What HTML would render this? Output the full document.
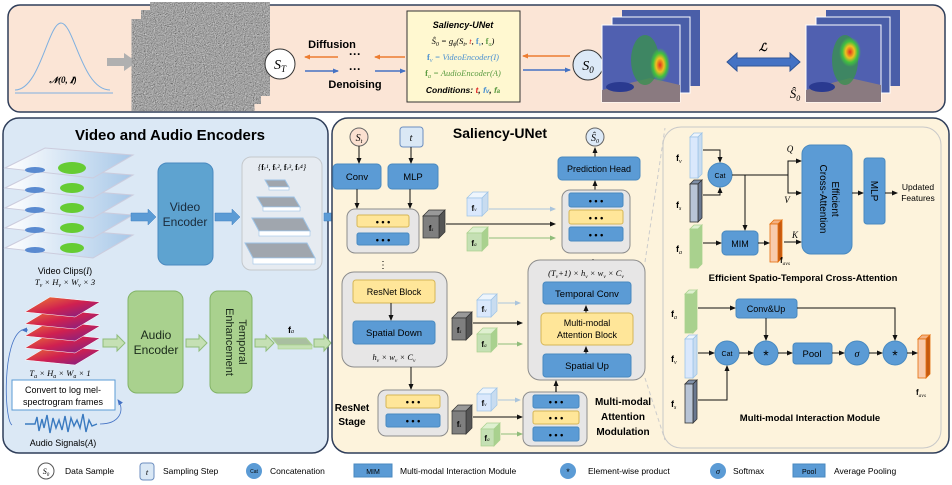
<!DOCTYPE html>
<html><head><meta charset="utf-8"><style>
html,body{margin:0;padding:0;background:#fff}
svg{display:block;font-family:"Liberation Sans",sans-serif}
.b{font-weight:bold}
.m{font-family:"Liberation Serif",serif;font-style:italic}
</style></head><body>
<svg width="952" height="485" viewBox="0 0 952 485" xmlns="http://www.w3.org/2000/svg">
<defs>
<marker id="ak" markerWidth="6" markerHeight="6" refX="5" refY="3" orient="auto" markerUnits="userSpaceOnUse"><path d="M0,0.5 L6,3 L0,5.5z" fill="#111"/></marker>
<marker id="ao" markerWidth="6" markerHeight="6" refX="5" refY="3" orient="auto" markerUnits="userSpaceOnUse"><path d="M0,0.5 L6,3 L0,5.5z" fill="#ed7d31"/></marker>
<marker id="ab" markerWidth="6" markerHeight="6" refX="5" refY="3" orient="auto" markerUnits="userSpaceOnUse"><path d="M0,0.5 L6,3 L0,5.5z" fill="#4472c4"/></marker>
<marker id="ag" markerWidth="6" markerHeight="6" refX="5" refY="3" orient="auto" markerUnits="userSpaceOnUse"><path d="M0,0.5 L6,3 L0,5.5z" fill="#8fbc7a"/></marker>
<marker id="al" markerWidth="6" markerHeight="6" refX="5" refY="3" orient="auto" markerUnits="userSpaceOnUse"><path d="M0,0.5 L6,3 L0,5.5z" fill="#aac4dc"/></marker>
<filter id="noise"><feTurbulence type="fractalNoise" baseFrequency="0.9" numOctaves="2"/><feColorMatrix type="matrix" values="0.45 0.45 0.45 0 -0.32 0.45 0.45 0.45 0 -0.32 0.45 0.45 0.45 0 -0.32 0 0 0 0 1"/></filter>
<radialGradient id="heat"><stop offset="0" stop-color="#e03020"/><stop offset="0.4" stop-color="#f0c020"/><stop offset="0.7" stop-color="#40c040"/><stop offset="1" stop-color="#40c040" stop-opacity="0"/></radialGradient>
<linearGradient id="spec" x1="0" y1="0" x2="1" y2="1"><stop offset="0" stop-color="#f08030"/><stop offset="0.5" stop-color="#d02050"/><stop offset="1" stop-color="#702090"/></linearGradient>
<linearGradient id="sky" x1="0" y1="0" x2="1" y2="0"><stop offset="0" stop-color="#ffffff"/><stop offset="1" stop-color="#a8c8e8"/></linearGradient>
</defs>

<!-- TOP PANEL -->
<rect x="8" y="5" width="937" height="107" rx="12" fill="#fbe5d6" stroke="#2f3e5a" stroke-width="1.5"/>
<path d="M15,93 L113,93" stroke="#7fb0e0" stroke-width="1"/>
<path d="M15,90 C40,90 48,23 61,23 C74,23 82,90 110,90" fill="none" stroke="#7fb0e0" stroke-width="1"/>
<text x="63" y="83" font-size="9" text-anchor="middle" class="m b">𝒩(0, 𝑰)</text>
<path d="M107,58 L124,58 L124,53 L137,62 L124,71 L124,66 L107,66z" fill="#b0b0b0"/>
<rect x="160" y="10" width="100" height="78" fill="#888" filter="url(#noise)"/>
<rect x="151" y="18" width="100" height="78" fill="#888" stroke="#fff" filter="url(#noise)"/>
<rect x="142" y="27" width="102" height="76" fill="#888" stroke="#fff" stroke-width="1" filter="url(#noise)"/>
<circle cx="280" cy="64" r="15" fill="#fff" stroke="#333"/>
<text x="280" y="69" font-size="14" text-anchor="middle" class="m">S<tspan font-size="9" dy="3">T</tspan></text>
<text x="332" y="48" font-size="11" text-anchor="middle" class="b">Diffusion</text>
<text x="355" y="88" font-size="11" text-anchor="middle" class="b">Denoising</text>
<line x1="338" y1="57" x2="305" y2="57" stroke="#ed7d31" stroke-width="1.5" marker-end="url(#ao)"/>
<line x1="405" y1="57" x2="375" y2="57" stroke="#ed7d31" stroke-width="1.5" marker-end="url(#ao)"/>
<line x1="305" y1="71" x2="338" y2="71" stroke="#4472c4" stroke-width="1.5" marker-end="url(#ab)"/>
<line x1="375" y1="71" x2="405" y2="71" stroke="#4472c4" stroke-width="1.5" marker-end="url(#ab)"/>
<text x="355" y="58" font-size="12" text-anchor="middle" class="b">···</text>
<text x="355" y="73" font-size="12" text-anchor="middle" class="b">···</text>
<rect x="407" y="11" width="113" height="91" fill="#fff8d0" stroke="#333"/>
<text x="463" y="28" font-size="9" text-anchor="middle" class="b" font-style="italic">Saliency-UNet</text>
<text x="463" y="44" font-size="8.5" text-anchor="middle" class="m">Ŝ<tspan font-size="6" dy="2">0</tspan><tspan dy="-2"> = g</tspan><tspan font-size="6" dy="2">ϕ</tspan><tspan dy="-2">(S</tspan><tspan font-size="6" dy="2">t</tspan><tspan dy="-2">, </tspan><tspan fill="#e02020">t</tspan>, <tspan fill="#4a90d0" font-weight="bold" font-style="normal">f</tspan><tspan fill="#4a90d0" font-size="6" dy="2">v</tspan><tspan dy="-2">, </tspan><tspan fill="#5a9a40" font-weight="bold" font-style="normal">f</tspan><tspan fill="#5a9a40" font-size="6" dy="2">a</tspan><tspan dy="-2">)</tspan></text>
<text x="463" y="60" font-size="8.5" text-anchor="middle" class="m" fill="#4a90d0"><tspan font-weight="bold" font-style="normal">f</tspan><tspan font-size="6" dy="2">v</tspan><tspan dy="-2"> = VideoEncoder(I)</tspan></text>
<text x="463" y="76" font-size="8.5" text-anchor="middle" class="m" fill="#5a9a40"><tspan font-weight="bold" font-style="normal">f</tspan><tspan font-size="6" dy="2">a</tspan><tspan dy="-2"> = AudioEncoder(A)</tspan></text>
<text x="463" y="93" font-size="8.5" text-anchor="middle" class="b" font-style="italic">Conditions: <tspan fill="#e02020">t</tspan>, <tspan fill="#4a90d0">f<tspan font-size="6">v</tspan></tspan>, <tspan fill="#5a9a40">f<tspan font-size="6">a</tspan></tspan></text>
<line x1="570" y1="56" x2="523" y2="56" stroke="#ed7d31" stroke-width="1.5" marker-end="url(#ao)"/>
<line x1="523" y1="70" x2="570" y2="70" stroke="#4472c4" stroke-width="1.5" marker-end="url(#ab)"/>
<circle cx="588" cy="65" r="15" fill="#dce9f7" stroke="#333"/>
<text x="588" y="70" font-size="14" text-anchor="middle" class="m">S<tspan font-size="9" dy="3">0</tspan></text>
<g>
<rect x="622" y="10" width="78" height="76" fill="#4a5ea8"/>
<rect x="612" y="17" width="78" height="76" fill="#4a5ea8" stroke="#fff"/>
<rect x="602" y="25" width="78" height="77" fill="#5060b0" stroke="#fff"/>
<polygon points="602,90 650,78 680,85 680,102 602,102" fill="#8a7a80"/>
<ellipse cx="620" cy="87" rx="14" ry="5" fill="#2a3a90"/>
<ellipse cx="645" cy="60" rx="14" ry="25" fill="#3a9050" opacity="0.8"/>
<ellipse cx="660" cy="65" rx="10" ry="17" fill="url(#heat)"/>
</g>
<path d="M727,62 L737,53 L737,58 L790,58 L790,53 L800,62 L790,71 L790,66 L737,66 L737,71z" fill="#4472c4" stroke="#2f5597"/>
<text x="763" y="51" font-size="11" text-anchor="middle" class="m b">ℒ</text>
<g>
<rect x="826" y="10" width="74" height="76" fill="#4a5ea8"/>
<rect x="816" y="17" width="74" height="76" fill="#4a5ea8" stroke="#fff"/>
<rect x="806" y="25" width="75" height="77" fill="#5060b0" stroke="#fff"/>
<polygon points="806,90 850,78 881,85 881,102 806,102" fill="#8a7a80"/>
<ellipse cx="822" cy="87" rx="13" ry="5" fill="#2a3a90"/>
<ellipse cx="845" cy="60" rx="13" ry="25" fill="#3a9050" opacity="0.8"/>
<ellipse cx="850" cy="52" rx="11" ry="15" fill="url(#heat)"/>
</g>
<text x="795" y="98" font-size="13" text-anchor="middle" class="m">Ŝ<tspan font-size="8" dy="3">0</tspan></text>

<!-- LEFT PANEL -->
<rect x="3" y="118" width="325" height="335" rx="16" fill="#dbe8f5" stroke="#2f3e5a" stroke-width="1.5"/>
<text x="170" y="140" font-size="15" text-anchor="middle" class="b">Video and Audio Encoders</text>
<g>
<polygon points="5,248 45,228 133,235 93,258" fill="url(#sky)" stroke="#ccd"/>
<polygon points="5,228 45,208 133,215 93,238" fill="url(#sky)" stroke="#ccd"/>
<polygon points="5,208 45,188 133,195 93,218" fill="url(#sky)" stroke="#ccd"/>
<polygon points="5,188 45,168 133,175 93,198" fill="url(#sky)" stroke="#ccd"/>
<polygon points="5,168 45,148 133,155 93,178" fill="url(#sky)" stroke="#ccd"/>
<ellipse cx="72" cy="168" rx="14" ry="6" fill="#66cc33"/><ellipse cx="72" cy="188" rx="12" ry="5" fill="#66cc33"/><ellipse cx="72" cy="208" rx="12" ry="5" fill="#66cc33"/><ellipse cx="72" cy="228" rx="12" ry="5" fill="#66cc33"/><ellipse cx="72" cy="248" rx="12" ry="5" fill="#66cc33"/>
<ellipse cx="35" cy="170" rx="10" ry="3" fill="#5a8ad0"/><ellipse cx="35" cy="190" rx="10" ry="3" fill="#5a8ad0"/><ellipse cx="35" cy="210" rx="10" ry="3" fill="#5a8ad0"/><ellipse cx="35" cy="230" rx="10" ry="3" fill="#5a8ad0"/><ellipse cx="35" cy="250" rx="10" ry="3" fill="#5a8ad0"/>
</g>
<text x="65" y="274" font-size="9" text-anchor="middle">Video Clips(<tspan class="m">I</tspan>)</text>
<text x="65" y="285" font-size="8.5" text-anchor="middle" class="m">T<tspan font-size="6" dy="2">v</tspan><tspan dy="-2"> × H</tspan><tspan font-size="6" dy="2">v</tspan><tspan dy="-2"> × W</tspan><tspan font-size="6" dy="2">v</tspan><tspan dy="-2"> × 3</tspan></text>
<path d="M131,213 L148,213 L148,209 L156,217 L148,225 L148,221 L131,221z" fill="#5b9bd5" stroke="#3f7fbf" stroke-width="0.5"/>
<rect x="158" y="163" width="55" height="102" rx="9" fill="#5ea3d0" stroke="#4a8ac0"/>
<text x="185" y="211" font-size="12" text-anchor="middle" fill="#1a2a3a">Video</text>
<text x="185" y="226" font-size="12" text-anchor="middle" fill="#1a2a3a">Encoder</text>
<path d="M215,213 L232,213 L232,209 L240,217 L232,225 L232,221 L215,221z" fill="#5b9bd5" stroke="#3f7fbf" stroke-width="0.5"/>
<rect x="242" y="157" width="80" height="113" rx="9" fill="#e6ebf1" stroke="#c4c8cc"/>
<text x="282" y="170" font-size="8" text-anchor="middle" class="m">{<tspan font-weight="bold" font-style="normal">f</tspan><tspan font-size="5">v</tspan>¹, <tspan font-weight="bold" font-style="normal">f</tspan><tspan font-size="5">v</tspan>², <tspan font-weight="bold" font-style="normal">f</tspan><tspan font-size="5">v</tspan>³, <tspan font-weight="bold" font-style="normal">f</tspan><tspan font-size="5">v</tspan>⁴}</text>
<polygon points="265,180 285,180 289,187 269,187" fill="#a0a6ae" stroke="#9dc3e6"/><rect x="269" y="187" width="20" height="3" fill="#fff" stroke="#9dc3e6" stroke-width="0.6"/>
<polygon points="257,197 294,197 300,207 263,207" fill="#a0a6ae" stroke="#9dc3e6"/><rect x="263" y="207" width="37" height="4" fill="#fff" stroke="#9dc3e6" stroke-width="0.6"/>
<polygon points="252,218 303,218 310,231 259,231" fill="#a0a6ae" stroke="#9dc3e6"/><rect x="259" y="231" width="51" height="5" fill="#fff" stroke="#9dc3e6" stroke-width="0.6"/>
<polygon points="245,243 307,243 315,258 253,258" fill="#a0a6ae" stroke="#9dc3e6"/><rect x="253" y="258" width="62" height="6" fill="#fff" stroke="#9dc3e6" stroke-width="0.6"/>
<path d="M324,213 L336,213 L336,209 L344,217 L336,225 L336,221 L324,221z" fill="#5b9bd5" stroke="#3f7fbf" stroke-width="0.5"/>
<g stroke="#fff" stroke-width="0.5">
<polygon points="25,360 50,345 100,350 75,365" fill="url(#spec)"/>
<polygon points="25,348 50,333 100,338 75,353" fill="url(#spec)"/>
<polygon points="25,336 50,321 100,326 75,341" fill="url(#spec)"/>
<polygon points="25,324 50,309 100,314 75,329" fill="url(#spec)"/>
<polygon points="25,312 50,297 100,302 75,317" fill="url(#spec)"/>
</g>
<text x="60" y="376" font-size="8.5" text-anchor="middle" class="m">T<tspan font-size="6" dy="2">a</tspan><tspan dy="-2"> × H</tspan><tspan font-size="6" dy="2">a</tspan><tspan dy="-2"> × W</tspan><tspan font-size="6" dy="2">a</tspan><tspan dy="-2"> × 1</tspan></text>
<path d="M103,339 L117,339 L117,335 L125,343 L117,351 L117,347 L103,347z" fill="#c5e0b4" stroke="#8fbc7a"/>
<rect x="128" y="291" width="55" height="102" rx="9" fill="#a9d18e" stroke="#82b366"/>
<text x="156" y="339" font-size="12" text-anchor="middle" fill="#1a2a1a">Audio</text>
<text x="156" y="354" font-size="12" text-anchor="middle" fill="#1a2a1a">Encoder</text>
<path d="M186,339 L199,339 L199,335 L207,343 L199,351 L199,347 L186,347z" fill="#c5e0b4" stroke="#8fbc7a"/>
<rect x="210" y="291" width="42" height="102" rx="8" fill="#a9d18e" stroke="#82b366"/>
<text transform="translate(239,342) rotate(90)" font-size="11" text-anchor="middle" fill="#1a2a1a">Temporal</text>
<text transform="translate(226,342) rotate(90)" font-size="11" text-anchor="middle" fill="#1a2a1a">Enhancement</text>
<path d="M255,339 L266,339 L266,335 L274,343 L266,351 L266,347 L255,347z" fill="#c5e0b4" stroke="#8fbc7a"/>
<polygon points="272,338 306,338 312,345 278,345" fill="#a9bfa0" stroke="#a9d18e"/><rect x="278" y="345" width="34" height="4" fill="#c5e0b4" stroke="#a9d18e" stroke-width="0.6"/>
<text x="291" y="333" font-size="9" text-anchor="middle" class="b">f<tspan font-size="6" class="m" font-weight="normal">a</tspan></text>
<path d="M314,339 L324,339 L324,335 L331,343 L324,351 L324,347 L314,347z" fill="#c5e0b4" stroke="#8fbc7a"/>
<rect x="12" y="380" width="103" height="30" fill="#fff" stroke="#5b9bd5"/>
<text x="63" y="393" font-size="9" text-anchor="middle">Convert to log mel-</text>
<text x="63" y="405" font-size="9" text-anchor="middle">spectrogram frames</text>
<path d="M22,330 C2,340 4,420 12,425" fill="none" stroke="#4472c4" stroke-width="0.8"/>
<path d="M28,330 L22,330" stroke="#4472c4" marker-end="url(#ab)"/>
<path d="M100,424 C120,424 125,410 118,400" fill="none" stroke="#4472c4" stroke-width="0.8" marker-end="url(#ab)"/>
<path d="M25,424 L35,424 L37,417 L39,431 L42,419 L44,428 L47,415 L50,433 L53,418 L56,428 L59,420 L62,430 L65,416 L68,432 L71,418 L74,426 L77,420 L80,428 L83,414 L86,432 L89,420 L92,426 L97,424" fill="none" stroke="#3a7ac0" stroke-width="1.4"/>
<text x="63" y="446" font-size="9" text-anchor="middle">Audio Signals(<tspan class="m">A</tspan>)</text>

<!-- RIGHT PANEL -->
<rect x="332" y="118" width="617" height="335" rx="16" fill="#fdf3dc" stroke="#2f3e5a" stroke-width="1.5"/>
<text x="500" y="138" font-size="14" text-anchor="middle" class="b">Saliency-UNet</text>
<circle cx="359" cy="137" r="9" fill="#fbe0d0" stroke="#666"/>
<text x="359" y="141" font-size="10" text-anchor="middle" class="m">S<tspan font-size="6" dy="2">t</tspan></text>
<rect x="400" y="127" width="23" height="20" rx="3" fill="#dae8f5" stroke="#6c8ebf"/>
<text x="411" y="141" font-size="10" text-anchor="middle" class="m">t</text>
<line x1="359" y1="146" x2="359" y2="163" stroke="#111" marker-end="url(#ak)"/>
<line x1="411" y1="147" x2="411" y2="163" stroke="#111" marker-end="url(#ak)"/>
<rect x="333" y="164" width="48" height="25" rx="4" fill="#5b9bd5" stroke="#4a8ac0"/>
<text x="357" y="180" font-size="9.5" text-anchor="middle">Conv</text>
<rect x="388" y="164" width="50" height="25" rx="4" fill="#5b9bd5" stroke="#4a8ac0"/>
<text x="413" y="180" font-size="9.5" text-anchor="middle">MLP</text>
<line x1="357" y1="189" x2="357" y2="208" stroke="#111" marker-end="url(#ak)"/>
<line x1="410" y1="189" x2="410" y2="208" stroke="#111" marker-end="url(#ak)"/>
<rect x="347" y="209" width="72" height="44" rx="8" fill="#e7e6e6" stroke="#8c8c8c"/>
<rect x="357" y="215" width="52" height="12" rx="2" fill="#ffe699" stroke="#d6b656"/>
<text x="383" y="225" font-size="9" text-anchor="middle" class="b">• • •</text>
<rect x="357" y="233" width="52" height="12" rx="2" fill="#5b9bd5" stroke="#4a8ac0"/>
<text x="383" y="243" font-size="9" text-anchor="middle" class="b">• • •</text>
<text x="383" y="268" font-size="10" text-anchor="middle">⋮</text>
<g stroke="#333" stroke-width="0.7">
<polygon points="423,216 429,210 445,210 439,216" fill="#999"/><polygon points="439,216 445,210 445,232 439,238" fill="#555"/><rect x="423" y="216" width="16" height="22" fill="#7f7f7f"/>
</g>
<text x="431" y="231" font-size="8" text-anchor="middle" class="b">f<tspan font-size="5" class="m" font-weight="normal">s</tspan></text>
<g stroke="#9dc3e6" stroke-width="0.7">
<polygon points="467,198 473,192 488,192 482,198" fill="#eef5fc"/><polygon points="482,198 488,192 488,210 482,216" fill="#c8dcf0"/><rect x="467" y="198" width="15" height="18" fill="#dae8fc"/>
</g>
<text x="474" y="211" font-size="8" text-anchor="middle" class="b">f<tspan font-size="5" class="m" font-weight="normal">v</tspan></text>
<g stroke="#a9d18e" stroke-width="0.7">
<polygon points="467,233 473,227 488,227 482,233" fill="#dff0d0"/><polygon points="482,233 488,227 488,245 482,251" fill="#a9d18e"/><rect x="467" y="233" width="15" height="18" fill="#c5e0b4"/>
</g>
<text x="474" y="246" font-size="8" text-anchor="middle" class="b">f<tspan font-size="5" class="m" font-weight="normal">a</tspan></text>
<line x1="489" y1="209" x2="555" y2="209" stroke="#aac4dc" marker-end="url(#al)"/>
<line x1="446" y1="224" x2="555" y2="224" stroke="#111" marker-end="url(#ak)"/>
<line x1="489" y1="238" x2="555" y2="238" stroke="#8fbc7a" marker-end="url(#ag)"/>
<circle cx="595" cy="137" r="9" fill="#dce9f7" stroke="#666"/>
<text x="595" y="141" font-size="10" text-anchor="middle" class="m">Ŝ<tspan font-size="6" dy="2">0</tspan></text>
<line x1="595" y1="157" x2="595" y2="148" stroke="#111" marker-end="url(#ak)"/>
<rect x="558" y="157" width="82" height="23" rx="4" fill="#5b9bd5" stroke="#4a8ac0"/>
<text x="599" y="172" font-size="9" text-anchor="middle">Prediction Head</text>
<line x1="595" y1="190" x2="595" y2="181" stroke="#111" marker-end="url(#ak)"/>
<rect x="562" y="190" width="68" height="63" rx="8" fill="#e7e6e6" stroke="#8c8c8c"/>
<rect x="569" y="193" width="54" height="14" rx="2" fill="#5b9bd5" stroke="#4a8ac0"/>
<text x="596" y="204" font-size="9" text-anchor="middle" class="b">• • •</text>
<rect x="569" y="210" width="54" height="14" rx="2" fill="#ffe699" stroke="#d6b656"/>
<text x="596" y="221" font-size="9" text-anchor="middle" class="b">• • •</text>
<rect x="569" y="227" width="54" height="14" rx="2" fill="#5b9bd5" stroke="#4a8ac0"/>
<text x="596" y="238" font-size="9" text-anchor="middle" class="b">• • •</text>
<text x="593" y="266" font-size="10" text-anchor="middle">⋮</text>
<rect x="528" y="260" width="117" height="120" rx="12" fill="#e7e6e6" stroke="#8c8c8c"/>
<text x="586" y="276" font-size="8.5" text-anchor="middle" class="m">(T<tspan font-size="5.5" dy="2">v</tspan><tspan dy="-2">+1) × h</tspan><tspan font-size="5.5" dy="2">v</tspan><tspan dy="-2"> × w</tspan><tspan font-size="5.5" dy="2">v</tspan><tspan dy="-2"> × C</tspan><tspan font-size="5.5" dy="2">v</tspan></text>
<rect x="543" y="282" width="88" height="22" rx="3" fill="#5b9bd5" stroke="#4a8ac0"/>
<text x="587" y="297" font-size="9.5" text-anchor="middle">Temporal Conv</text>
<line x1="586" y1="313" x2="586" y2="306" stroke="#111" marker-end="url(#ak)"/>
<rect x="541" y="313" width="92" height="32" rx="4" fill="#ffe699" stroke="#d6b656"/>
<text x="587" y="326" font-size="9" text-anchor="middle">Multi-modal</text>
<text x="587" y="338" font-size="9" text-anchor="middle">Attention Block</text>
<line x1="586" y1="354" x2="586" y2="347" stroke="#111" marker-end="url(#ak)"/>
<rect x="543" y="354" width="88" height="23" rx="3" fill="#5b9bd5" stroke="#4a8ac0"/>
<text x="587" y="369" font-size="9.5" text-anchor="middle">Spatial Up</text>
<rect x="342" y="272" width="105" height="95" rx="12" fill="#e7e6e6" stroke="#8c8c8c"/>
<rect x="353" y="280" width="82" height="23" rx="3" fill="#ffe699" stroke="#d6b656"/>
<text x="394" y="295" font-size="9" text-anchor="middle">ResNet Block</text>
<line x1="391" y1="303" x2="391" y2="320" stroke="#111" marker-end="url(#ak)"/>
<rect x="353" y="321" width="82" height="23" rx="3" fill="#5b9bd5" stroke="#4a8ac0"/>
<text x="394" y="336" font-size="9.5" text-anchor="middle">Spatial Down</text>
<text x="394" y="360" font-size="8.5" text-anchor="middle" class="m">h<tspan font-size="5.5" dy="2">v</tspan><tspan dy="-2"> × w</tspan><tspan font-size="5.5" dy="2">v</tspan><tspan dy="-2"> × C</tspan><tspan font-size="5.5" dy="2">v</tspan></text>
<line x1="411" y1="367" x2="411" y2="389" stroke="#111" marker-end="url(#ak)"/>
<g stroke="#333" stroke-width="0.7">
<polygon points="452,318 458,312 472,312 466,318" fill="#999"/><polygon points="466,318 472,312 472,334 466,340" fill="#555"/><rect x="452" y="318" width="14" height="22" fill="#7f7f7f"/>
</g>
<text x="459" y="333" font-size="8" text-anchor="middle" class="b">f<tspan font-size="5" class="m" font-weight="normal">s</tspan></text>
<g stroke="#9dc3e6" stroke-width="0.7">
<polygon points="477,300 483,294 497,294 491,300" fill="#eef5fc"/><polygon points="491,300 497,294 497,311 491,317" fill="#c8dcf0"/><rect x="477" y="300" width="14" height="17" fill="#dae8fc"/>
</g>
<text x="484" y="312" font-size="8" text-anchor="middle" class="b">f<tspan font-size="5" class="m" font-weight="normal">v</tspan></text>
<g stroke="#a9d18e" stroke-width="0.7">
<polygon points="477,334 483,328 497,328 491,334" fill="#dff0d0"/><polygon points="491,334 497,328 497,346 491,352" fill="#a9d18e"/><rect x="477" y="334" width="14" height="18" fill="#c5e0b4"/>
</g>
<text x="484" y="347" font-size="8" text-anchor="middle" class="b">f<tspan font-size="5" class="m" font-weight="normal">a</tspan></text>
<line x1="498" y1="303" x2="520" y2="303" stroke="#aac4dc" marker-end="url(#al)"/>
<line x1="473" y1="323" x2="522" y2="323" stroke="#111" marker-end="url(#ak)"/>
<line x1="498" y1="344" x2="522" y2="344" stroke="#8fbc7a" marker-end="url(#ag)"/>
<rect x="378" y="390" width="70" height="46" rx="8" fill="#e7e6e6" stroke="#8c8c8c"/>
<rect x="386" y="395" width="54" height="13" rx="2" fill="#ffe699" stroke="#d6b656"/>
<text x="413" y="405" font-size="9" text-anchor="middle" class="b">• • •</text>
<rect x="386" y="414" width="54" height="13" rx="2" fill="#5b9bd5" stroke="#4a8ac0"/>
<text x="413" y="424" font-size="9" text-anchor="middle" class="b">• • •</text>
<text x="352" y="411" font-size="10" text-anchor="middle" class="b">ResNet</text>
<text x="352" y="425" font-size="10" text-anchor="middle" class="b">Stage</text>
<g stroke="#333" stroke-width="0.7">
<polygon points="452,411 458,405 472,405 466,411" fill="#999"/><polygon points="466,411 472,405 472,428 466,434" fill="#555"/><rect x="452" y="411" width="14" height="23" fill="#7f7f7f"/>
</g>
<text x="459" y="427" font-size="8" text-anchor="middle" class="b">f<tspan font-size="5" class="m" font-weight="normal">s</tspan></text>
<g stroke="#9dc3e6" stroke-width="0.7">
<polygon points="477,394 483,388 497,388 491,394" fill="#eef5fc"/><polygon points="491,394 497,388 497,405 491,411" fill="#c8dcf0"/><rect x="477" y="394" width="14" height="17" fill="#dae8fc"/>
</g>
<text x="484" y="406" font-size="8" text-anchor="middle" class="b">f<tspan font-size="5" class="m" font-weight="normal">v</tspan></text>
<g stroke="#a9d18e" stroke-width="0.7">
<polygon points="481,429 487,423 500,423 494,429" fill="#dff0d0"/><polygon points="494,429 500,423 500,440 494,446" fill="#a9d18e"/><rect x="481" y="429" width="13" height="17" fill="#c5e0b4"/>
</g>
<text x="487" y="441" font-size="8" text-anchor="middle" class="b">f<tspan font-size="5" class="m" font-weight="normal">a</tspan></text>
<line x1="498" y1="400" x2="520" y2="400" stroke="#aac4dc" marker-end="url(#al)"/>
<line x1="473" y1="417" x2="522" y2="417" stroke="#111" marker-end="url(#ak)"/>
<line x1="501" y1="434" x2="522" y2="434" stroke="#8fbc7a" marker-end="url(#ag)"/>
<rect x="523" y="392" width="64" height="54" rx="8" fill="#e7e6e6" stroke="#8c8c8c"/>
<rect x="533" y="395" width="46" height="13" rx="2" fill="#5b9bd5" stroke="#4a8ac0"/>
<text x="556" y="405" font-size="9" text-anchor="middle" class="b">• • •</text>
<rect x="533" y="411" width="46" height="13" rx="2" fill="#ffe699" stroke="#d6b656"/>
<text x="556" y="421" font-size="9" text-anchor="middle" class="b">• • •</text>
<rect x="533" y="427" width="46" height="14" rx="2" fill="#5b9bd5" stroke="#4a8ac0"/>
<text x="556" y="438" font-size="9" text-anchor="middle" class="b">• • •</text>
<line x1="556" y1="392" x2="556" y2="381" stroke="#111" stroke-width="1.2" marker-end="url(#ak)"/>
<text x="623" y="405" font-size="10" text-anchor="middle" class="b">Multi-modal</text>
<text x="623" y="420" font-size="10" text-anchor="middle" class="b">Attention</text>
<text x="623" y="435" font-size="10" text-anchor="middle" class="b">Modulation</text>
<line x1="645" y1="262" x2="665" y2="128" stroke="#ccc" stroke-dasharray="4,3"/>
<line x1="645" y1="378" x2="665" y2="440" stroke="#ccc" stroke-dasharray="4,3"/>

<!-- sub panel -->
<rect x="663" y="127" width="278" height="321" rx="18" fill="#fdf3dc" stroke="#c8c8c8"/>
<g stroke-width="0.8">
<polygon points="690,137 694,133 702,133 698,137" fill="#eef5fc" stroke="#9dc3e6"/><polygon points="698,137 702,133 702,174 698,178" fill="#c8dcf0" stroke="#9dc3e6"/><rect x="690" y="137" width="8" height="41" fill="#dae8fc" stroke="#9dc3e6"/>
<polygon points="690,184 694,180 702,180 698,184" fill="#8090a8" stroke="#333"/><polygon points="698,184 702,180 702,218 698,222" fill="#6a7890" stroke="#333"/><rect x="690" y="184" width="8" height="38" fill="#b8c4d6" stroke="#333"/>
<polygon points="690,229 694,225 702,225 698,229" fill="#dff0d0" stroke="#a9d18e"/><polygon points="698,229 702,225 702,264 698,268" fill="#a9d18e" stroke="#a9d18e"/><rect x="690" y="229" width="8" height="39" fill="#a9d18e" stroke="#a9d18e"/>
<polygon points="770,224 774,220 782,220 778,224" fill="#f4b183" stroke="#e46c0a"/><polygon points="778,224 782,220 782,258 778,262" fill="#c55a11" stroke="#e46c0a"/><rect x="770" y="224" width="8" height="38" fill="#f8cbad" stroke="#e46c0a"/>
</g>
<text x="676" y="161" font-size="9" class="b">f<tspan font-size="6" class="m" font-weight="normal" dy="2">v</tspan></text>
<text x="676" y="208" font-size="9" class="b">f<tspan font-size="6" class="m" font-weight="normal" dy="2">s</tspan></text>
<text x="676" y="252" font-size="9" class="b">f<tspan font-size="6" class="m" font-weight="normal" dy="2">a</tspan></text>
<path d="M703,150 L720,150 L720,162" fill="none" stroke="#111" marker-end="url(#ak)"/>
<path d="M703,195 L720,195 L720,188" fill="none" stroke="#111" marker-end="url(#ak)"/>
<circle cx="720" cy="175" r="12" fill="#5b9bd5" stroke="#4a8ac0"/>
<text x="720" y="178" font-size="7" text-anchor="middle">Cat</text>
<path d="M732,175 L788,175" stroke="#111" fill="none"/>
<path d="M788,175 L788,161 L801,161" fill="none" stroke="#111" marker-end="url(#ak)"/>
<path d="M788,175 L788,193 L801,193" fill="none" stroke="#111" marker-end="url(#ak)"/>
<line x1="745" y1="175" x2="745" y2="230" stroke="#111" marker-end="url(#ak)"/>
<text x="790" y="152" font-size="9" class="m" text-anchor="middle">Q</text>
<text x="787" y="203" font-size="9" class="m" text-anchor="middle">V</text>
<text x="795" y="238" font-size="9" class="m" text-anchor="middle">K</text>
<line x1="703" y1="243" x2="721" y2="243" stroke="#111" marker-end="url(#ak)"/>
<rect x="722" y="231" width="36" height="24" rx="4" fill="#5b9bd5" stroke="#4a8ac0"/>
<text x="740" y="247" font-size="9" text-anchor="middle">MIM</text>
<line x1="758" y1="243" x2="769" y2="243" stroke="#111" marker-end="url(#ak)"/>
<line x1="784" y1="242" x2="801" y2="242" stroke="#111" marker-end="url(#ak)"/>
<text x="780" y="263" font-size="8" class="b">f<tspan font-size="5.5" class="m" font-weight="normal" dy="2">avs</tspan></text>
<rect x="802" y="145" width="50" height="109" rx="9" fill="#5b9bd5" stroke="#4a8ac0"/>
<text transform="translate(832,199) rotate(90)" font-size="10" text-anchor="middle">Efficient</text>
<text transform="translate(820,199) rotate(90)" font-size="10" text-anchor="middle">Cross-Attention</text>
<line x1="852" y1="193" x2="863" y2="193" stroke="#111" marker-end="url(#ak)"/>
<rect x="864" y="158" width="21" height="66" rx="3" fill="#5b9bd5" stroke="#4a8ac0"/>
<text transform="translate(871,191) rotate(90)" font-size="10" text-anchor="middle">MLP</text>
<line x1="885" y1="193" x2="897" y2="193" stroke="#111" marker-end="url(#ak)"/>
<text x="918" y="190" font-size="8.5" text-anchor="middle">Updated</text>
<text x="918" y="201" font-size="8.5" text-anchor="middle">Features</text>
<text x="803" y="281" font-size="9.5" text-anchor="middle" class="b">Efficient  Spatio-Temporal Cross-Attention</text>
<g stroke-width="0.8">
<polygon points="685,294 689,290 697,290 693,294" fill="#dff0d0" stroke="#a9d18e"/><polygon points="693,294 697,290 697,329 693,333" fill="#a9d18e" stroke="#a9d18e"/><rect x="685" y="294" width="8" height="39" fill="#a9d18e" stroke="#a9d18e"/>
<polygon points="685,339 689,335 697,335 693,339" fill="#eef5fc" stroke="#9dc3e6"/><polygon points="693,339 697,335 697,374 693,378" fill="#c8dcf0" stroke="#9dc3e6"/><rect x="685" y="339" width="8" height="39" fill="#dae8fc" stroke="#9dc3e6"/>
<polygon points="685,384 689,380 697,380 693,384" fill="#8090a8" stroke="#333"/><polygon points="693,384 697,380 697,419 693,423" fill="#6a7890" stroke="#333"/><rect x="685" y="384" width="8" height="39" fill="#b8c4d6" stroke="#333"/>
<polygon points="918,339 922,335 930,335 926,339" fill="#f4b183" stroke="#e46c0a"/><polygon points="926,339 930,335 930,374 926,378" fill="#c55a11" stroke="#e46c0a"/><rect x="918" y="339" width="8" height="39" fill="#f8cbad" stroke="#e46c0a"/>
</g>
<text x="671" y="317" font-size="9" class="b">f<tspan font-size="6" class="m" font-weight="normal" dy="2">a</tspan></text>
<text x="671" y="362" font-size="9" class="b">f<tspan font-size="6" class="m" font-weight="normal" dy="2">v</tspan></text>
<text x="671" y="407" font-size="9" class="b">f<tspan font-size="6" class="m" font-weight="normal" dy="2">s</tspan></text>
<text x="916" y="395" font-size="8" class="b">f<tspan font-size="5.5" class="m" font-weight="normal" dy="2">avs</tspan></text>
<line x1="698" y1="308" x2="735" y2="308" stroke="#111" marker-end="url(#ak)"/>
<rect x="736" y="299" width="61" height="19" rx="3" fill="#5b9bd5" stroke="#4a8ac0"/>
<text x="766" y="312" font-size="9" text-anchor="middle">Conv&amp;Up</text>
<path d="M797,308 L895,308 L895,340" fill="none" stroke="#111" marker-end="url(#ak)"/>
<line x1="766" y1="318" x2="766" y2="340" stroke="#111" marker-end="url(#ak)"/>
<line x1="698" y1="353" x2="714" y2="353" stroke="#111" marker-end="url(#ak)"/>
<path d="M698,400 L727,400 L727,366" fill="none" stroke="#111" marker-end="url(#ak)"/>
<circle cx="727" cy="353" r="12" fill="#5b9bd5" stroke="#4a8ac0"/>
<text x="727" y="356" font-size="7" text-anchor="middle">Cat</text>
<line x1="739" y1="353" x2="753" y2="353" stroke="#111" marker-end="url(#ak)"/>
<circle cx="766" cy="353" r="12" fill="#5b9bd5" stroke="#4a8ac0"/>
<text x="766" y="360" font-size="14" text-anchor="middle">*</text>
<line x1="778" y1="353" x2="792" y2="353" stroke="#111" marker-end="url(#ak)"/>
<rect x="793" y="343" width="39" height="21" rx="3" fill="#5b9bd5" stroke="#4a8ac0"/>
<text x="812" y="357" font-size="9.5" text-anchor="middle">Pool</text>
<line x1="832" y1="353" x2="844" y2="353" stroke="#111" marker-end="url(#ak)"/>
<circle cx="857" cy="353" r="12" fill="#5b9bd5" stroke="#4a8ac0"/>
<text x="857" y="357" font-size="10" text-anchor="middle" class="m">σ</text>
<line x1="869" y1="353" x2="882" y2="353" stroke="#111" marker-end="url(#ak)"/>
<circle cx="895" cy="353" r="12" fill="#5b9bd5" stroke="#4a8ac0"/>
<text x="895" y="360" font-size="14" text-anchor="middle">*</text>
<line x1="907" y1="353" x2="917" y2="353" stroke="#111" marker-end="url(#ak)"/>
<text x="810" y="421" font-size="9.5" text-anchor="middle" class="b">Multi-modal Interaction Module</text>

<!-- LEGEND -->
<g font-size="8.5">
<circle cx="46" cy="471" r="8" fill="#fff" stroke="#555"/><text x="46" y="474" font-size="8" text-anchor="middle" class="m">S<tspan font-size="5" dy="2">0</tspan></text>
<text x="65" y="474">Data Sample</text>
<rect x="140" y="463" width="14" height="17" rx="3" fill="#dae8f5" stroke="#6c8ebf"/><text x="147" y="475" text-anchor="middle" class="m">t</text>
<text x="163" y="474">Sampling Step</text>
<circle cx="254" cy="471" r="8" fill="#5b9bd5"/><text x="254" y="473" font-size="5" text-anchor="middle">Cat</text>
<text x="270" y="474">Concatenation</text>
<rect x="354" y="464" width="38" height="13" fill="#5b9bd5" stroke="#4a8ac0"/><text x="373" y="474" font-size="7" text-anchor="middle">MIM</text>
<text x="400" y="474">Multi-modal Interaction Module</text>
<circle cx="568" cy="471" r="8" fill="#5b9bd5"/><text x="568" y="475" font-size="9" text-anchor="middle">*</text>
<text x="588" y="474">Element-wise product</text>
<circle cx="718" cy="471" r="8" fill="#5b9bd5"/><text x="718" y="474" font-size="8" text-anchor="middle" class="m">σ</text>
<text x="733" y="474">Softmax</text>
<rect x="793" y="464" width="32" height="13" fill="#5b9bd5" stroke="#4a8ac0"/><text x="809" y="474" font-size="7" text-anchor="middle">Pool</text>
<text x="834" y="474">Average Pooling</text>
</g>
</svg>
</body></html>
